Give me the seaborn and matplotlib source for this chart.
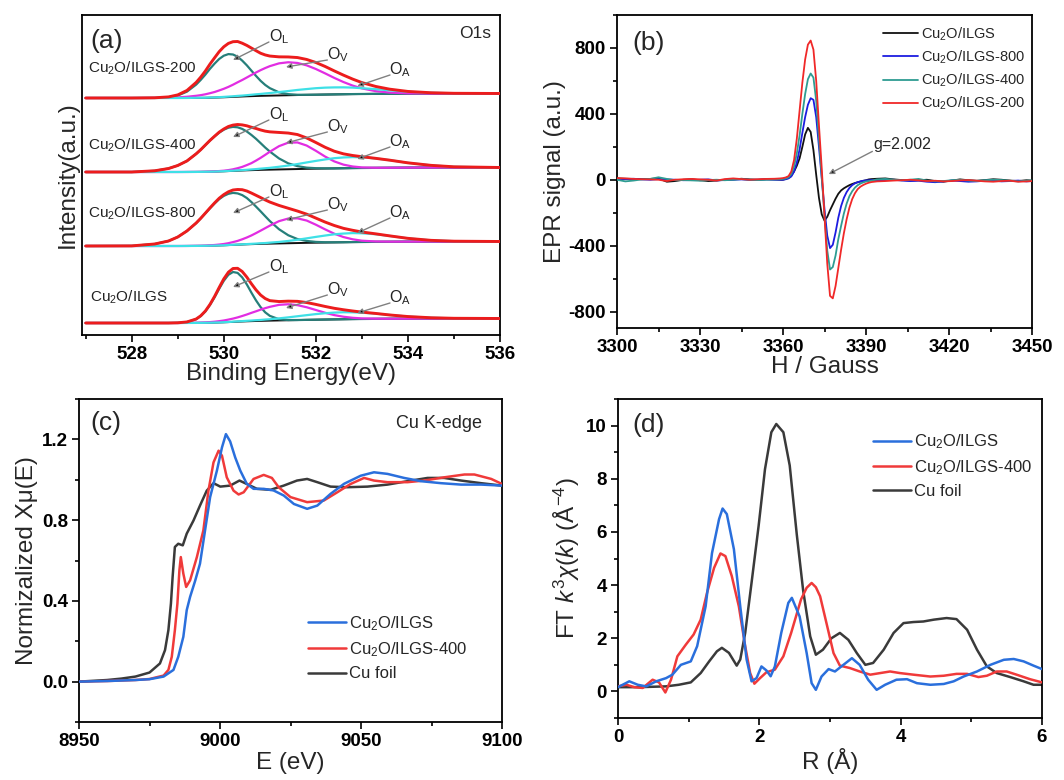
import numpy as np
import matplotlib
matplotlib.use('Agg')
import matplotlib.pyplot as plt
from matplotlib.ticker import MultipleLocator
import seaborn as sns

sns.set_theme(style='ticks')
plt.rcParams['font.family'] = ['Liberation Sans', 'DejaVu Sans']
plt.rcParams['mathtext.fontset'] = 'custom'
plt.rcParams['mathtext.rm'] = 'Liberation Sans'
plt.rcParams['mathtext.it'] = 'Liberation Sans:italic'
plt.rcParams['mathtext.bf'] = 'Liberation Sans:bold'

# ---------------- Panel (a): XPS O1s ----------------
xps_energy = [527.0, 528.0, 528.5, 528.8, 529.0, 529.2, 529.4, 529.5, 529.6, 529.7,
              529.8, 529.9, 530.0, 530.1, 530.2, 530.3, 530.4, 530.5, 530.6, 530.7,
              530.8, 530.9, 531.0, 531.2, 531.4, 531.6, 531.8, 532.0, 532.2, 532.4,
              532.6, 532.8, 533.0, 533.3, 533.6, 534.0, 534.5, 535.0, 536.0]
xps_background = [0, 0, 0, 0, 0, 0.05, 0.1, 0.15, 0.2, 0.3, 0.4, 0.55, 0.7, 0.9, 1.1, 1.3,
                  1.5, 1.7, 1.85, 2.0, 2.15, 2.25, 2.35, 2.55, 2.75, 2.95, 3.15, 3.3, 3.45,
                  3.6, 3.75, 3.9, 4.0, 4.15, 4.25, 4.35, 4.45, 4.5, 4.5]

xps_samples = ['Cu$_2$O/ILGS', 'Cu$_2$O/ILGS-800', 'Cu$_2$O/ILGS-400', 'Cu$_2$O/ILGS-200']
xps_offsets = [12, 89, 163, 237]

ol_ilgs = [0, 0, 0, 0, 0.2, 0.9, 3.7, 6.8, 11.4, 17.7, 25.3, 33.7, 41.5, 47.3, 49.9, 48.8,
           44.1, 36.9, 28.5, 20.6, 13.7, 8.4, 4.8, 1.2, 0.2, 0, 0, 0, 0, 0, 0, 0, 0, 0, 0,
           0, 0, 0, 0]
ov_ilgs = [0, 0, 0, 0, 0, 0.1, 0.2, 0.3, 0.4, 0.6, 0.9, 1.3, 1.8, 2.5, 3.3, 4.3, 5.5, 6.8,
           8.3, 9.7, 11.2, 12.6, 13.8, 15.6, 16.0, 14.9, 12.6, 9.7, 6.8, 4.3, 2.5, 1.3, 0.6,
           0.2, 0, 0, 0, 0, 0]
oa_ilgs = [0, 0, 0, 0, 0, 0, 0, 0, 0, 0, 0, 0, 0.1, 0.1, 0.2, 0.3, 0.4, 0.5, 0.6, 0.8, 0.9,
           1.2, 1.4, 2.1, 2.9, 3.8, 4.7, 5.6, 6.3, 6.8, 7.0, 6.8, 6.3, 5.2, 3.8, 2.1, 0.8,
           0.2, 0]

ol_800 = [0, 0.1, 2.0, 5.0, 9.0, 15.0, 22.8, 27.5, 32.5, 37.4, 42.1, 46.3, 49.4, 51.3, 52.0,
          51.3, 49.4, 46.3, 42.1, 37.4, 32.5, 27.5, 22.6, 14.2, 8.0, 4.0, 1.9, 0.8, 0.3, 0.1,
          0, 0, 0, 0, 0, 0, 0, 0, 0]
ov_800 = [0, 0, 0, 0, 0, 0, 0.1, 0.1, 0.2, 0.4, 0.6, 0.9, 1.3, 1.9, 2.8, 3.8, 5.2, 6.8, 8.7,
          10.9, 13.2, 15.6, 18.0, 22.3, 24.7, 24.7, 22.3, 18.0, 13.2, 8.7, 5.2, 2.8, 1.3, 0.4,
          0.1, 0, 0, 0, 0]
oa_800 = [0, 0, 0, 0, 0, 0, 0, 0, 0, 0, 0, 0, 0, 0.1, 0.1, 0.1, 0.2, 0.2, 0.3, 0.4, 0.6, 0.7,
          1.0, 1.5, 2.3, 3.3, 4.5, 5.8, 7.0, 8.1, 8.7, 9.0, 8.7, 7.6, 5.8, 3.3, 1.2, 0.3, 0]

ol_400 = [0, 0, 1.2, 3.5, 6.5, 11.0, 18.1, 22.2, 26.7, 31.2, 35.2, 38.8, 41.6, 43.4, 44.0,
          43.4, 41.6, 38.8, 35.2, 31.2, 26.7, 22.2, 18.1, 11.0, 5.9, 2.9, 1.2, 0.5, 0.2, 0,
          0, 0, 0, 0, 0, 0, 0, 0, 0]
ov_400 = [0, 0, 0, 0, 0, 0, 0, 0, 0.1, 0.1, 0.2, 0.4, 0.6, 1.0, 1.6, 2.5, 3.6, 5.2, 7.0, 9.4,
          12.0, 14.9, 17.9, 23.3, 26.6, 26.6, 23.3, 17.9, 12.0, 7.0, 3.6, 1.6, 0.6, 0.1, 0,
          0, 0, 0, 0]
oa_400 = [0, 0, 0, 0, 0, 0, 0, 0, 0, 0, 0, 0.1, 0.1, 0.2, 0.2, 0.3, 0.4, 0.5, 0.7, 0.9, 1.2,
          1.5, 1.8, 2.7, 3.7, 5.0, 6.4, 7.8, 9.1, 10.2, 10.8, 11.0, 10.7, 9.4, 7.6, 4.8, 2.2,
          0.7, 0]

ol_200 = [0, 0, 0.1, 0.8, 2.5, 6.3, 13.3, 18.0, 23.2, 28.9, 34.0, 38.5, 41.6, 43.0, 42.4,
          40.0, 35.9, 31.0, 25.5, 20.1, 15.0, 10.8, 7.5, 3.1, 1.1, 0.3, 0.1, 0, 0, 0, 0, 0,
          0, 0, 0, 0, 0, 0, 0]
ov_200 = [0, 0, 0.1, 0.3, 0.6, 1.2, 2.1, 2.7, 3.5, 4.5, 5.6, 7.0, 8.5, 10.2, 12.2, 14.4, 16.5,
          18.8, 21.2, 23.5, 25.7, 27.7, 29.5, 32.1, 33.0, 32.1, 29.5, 25.7, 21.2, 16.5, 12.2,
          8.5, 5.6, 2.7, 1.2, 0.3, 0, 0, 0]
oa_200 = [0, 0, 0, 0, 0, 0, 0.1, 0.1, 0.1, 0.2, 0.2, 0.3, 0.4, 0.5, 0.6, 0.8, 0.9, 1.1, 1.4,
          1.7, 1.9, 2.3, 2.6, 3.4, 4.2, 5.1, 5.8, 6.5, 6.9, 7.0, 6.9, 6.5, 5.8, 4.7, 3.4, 1.9,
          0.8, 0.2, 0]

xps_components = [(ol_ilgs, ov_ilgs, oa_ilgs), (ol_800, ov_800, oa_800),
                  (ol_400, ov_400, oa_400), (ol_200, ov_200, oa_200)]

# ---------------- Panel (b): EPR ----------------
epr_field = [3300, 3303, 3306, 3309, 3312, 3315, 3318, 3321, 3324, 3327, 3330, 3333, 3336,
             3339, 3342, 3345, 3348, 3351, 3354, 3357, 3359,
             3360, 3361, 3362, 3363, 3364, 3365, 3366, 3367, 3368, 3369, 3370, 3371, 3372,
             3373, 3374, 3375, 3376, 3377, 3378, 3379, 3380, 3381, 3382, 3383, 3384, 3385,
             3386, 3387, 3388, 3389, 3390, 3391, 3392,
             3394, 3397, 3400, 3403, 3406, 3409, 3412, 3415, 3418, 3421, 3424, 3427, 3430,
             3433, 3436, 3439, 3442, 3445, 3448, 3450]
epr_ilgs = [8, 6, 5, 4, 5, 8, -12, -8, 0, 3, -3, -8, -5, 0, 2, 6, 2, 0, 3, 2, 0,
            0, 5, 12, 25, 50, 85, 130, 200, 275, 315, 290, 180, 30, -110, -210, -248, -225,
            -185, -150, -115, -85, -65, -52, -42, -33, -26, -20, -15, -11, -7, -3, 2, 4,
            6, 8, 2, -2, -5, -3, 0, -8, -12, -5, 2, -3, -6, -2, 3, 0, -5, -8, -3, -5]
epr_800 = [5, 3, 6, 2, 0, 4, 2, 0, -3, -2, 0, 2, -4, -2, 0, 2, -1, 0, 2, 0, 0,
           0, 3, 8, 20, 50, 105, 185, 285, 380, 455, 495, 485, 380, 200, 10, -180, -340,
           -415, -395, -320, -230, -160, -110, -75, -50, -33, -22, -15, -10, -6, -4, -3, -2,
           -3, -2, 0, -5, -8, -6, -12, -15, -10, -5, -8, -12, -10, -6, -5, -10, -8, -5, -10, -8]
epr_400 = [0, -10, -5, 2, 5, 15, 5, -3, -2, -4, -6, -2, 0, -3, 0, 4, 0, -2, 0, 2, 3,
           5, 8, 15, 35, 80, 160, 270, 400, 520, 610, 645, 620, 480, 250, 20, -220, -430,
           -545, -530, -460, -360, -280, -205, -145, -100, -70, -48, -33, -23, -16, -11, -8, -6,
           2, 5, 0, -3, 0, 5, -5, -10, -8, -3, 0, -5, -8, -3, 0, -2, -6, -10, -6, -5]
epr_200 = [10, 8, 5, 3, 2, 0, -8, 0, 3, 5, 2, 0, -5, 4, 8, 4, 0, 3, 5, 6, 8,
           10, 14, 22, 50, 120, 250, 420, 590, 730, 820, 845, 790, 600, 330, 70, -220, -510,
           -705, -720, -645, -535, -425, -325, -240, -170, -118, -82, -57, -42, -32, -24, -18, -14,
           -10, -8, -5, -3, 0, -4, -8, -6, -10, -8, -4, -2, -6, -10, -12, -8, -6, -12, -10, -8]

# ---------------- Panel (c): XANES ----------------
xanes_e_ilgs = [8950, 8960, 8970, 8975, 8980, 8983.5, 8985.2, 8987, 8988.2, 8989.4, 8991.2,
                8992.9, 8994.7, 8996.5, 8998.9, 9000.7, 9002.1, 9003.6, 9005.4, 9007.2, 9009.5,
                9011.9, 9015.5, 9019, 9022.6, 9026.2, 9030.9, 9034.5, 9039.2, 9044, 9049.9,
                9054.6, 9059.4, 9065.3, 9071.2, 9078.4, 9085.5, 9092.6, 9100]
xanes_mu_ilgs = [0.0, 0.003, 0.008, 0.012, 0.025, 0.058, 0.123, 0.222, 0.354, 0.42, 0.50,
                 0.584, 0.749, 0.914, 1.045, 1.16, 1.226, 1.19, 1.11, 1.045, 0.98, 0.955, 0.955,
                 0.947, 0.922, 0.88, 0.856, 0.872, 0.93, 0.98, 1.02, 1.037, 1.029, 1.009, 0.993,
                 0.983, 0.976, 0.976, 0.971]
xanes_e_400 = [8950, 8960, 8970, 8975, 8980, 8981.7, 8982.9, 8984, 8984.9, 8985.6, 8986.1,
               8987, 8988, 8989.4, 8991.8, 8994.1, 8995.9, 8997.7, 8999.5, 9000.7, 9002.4,
               9004.8, 9006.6, 9008.4, 9011.9, 9015.5, 9018.4, 9020.8, 9025, 9030.9, 9036.8,
               9041.6, 9046.3, 9051.1, 9054.6, 9059.4, 9066.5, 9072.4, 9079.5, 9086.7, 9090.2,
               9096.2, 9100]
xanes_mu_400 = [0.0, 0.003, 0.008, 0.013, 0.03, 0.058, 0.123, 0.255, 0.387, 0.551, 0.617,
                0.535, 0.469, 0.502, 0.617, 0.749, 0.946, 1.086, 1.144, 1.119, 1.012, 0.946,
                0.927, 0.938, 1.004, 1.024, 1.009, 0.963, 0.914, 0.889, 0.897, 0.938, 0.979,
                1.009, 0.996, 0.988, 0.988, 0.996, 1.012, 1.026, 1.026, 1.004, 0.979]
xanes_e_foil = [8950, 8960, 8965, 8970, 8975, 8978.7, 8980.5, 8981.7, 8982.6, 8983.2, 8984,
                8985.2, 8986.8, 8988.2, 8990.6, 8992.9, 8995.3, 8997.7, 9000.1, 9003.6, 9006.9,
                9009.5, 9013.1, 9017.9, 9022.6, 9027.3, 9030.9, 9034.5, 9039.2, 9045.1, 9052.3,
                9059.4, 9066.5, 9073.6, 9079.5, 9085.5, 9092.6, 9100]
xanes_mu_foil = [0.0, 0.008, 0.015, 0.025, 0.045, 0.09, 0.156, 0.255, 0.387, 0.519, 0.667,
                 0.683, 0.675, 0.733, 0.798, 0.872, 0.946, 0.983, 0.966, 0.971, 0.996, 0.979,
                 0.955, 0.95, 0.971, 0.996, 1.004, 0.988, 0.966, 0.963, 0.966, 0.976, 0.993,
                 1.009, 1.009, 0.996, 0.983, 0.971]

# ---------------- Panel (d): FT-EXAFS ----------------
ft_r_ilgs = [0, 0.16, 0.28, 0.40, 0.54, 0.68, 0.77, 0.89, 1.03, 1.12, 1.24, 1.33, 1.43, 1.48,
             1.54, 1.64, 1.73, 1.82, 1.89, 1.96, 2.03, 2.10, 2.16, 2.22, 2.31, 2.41, 2.46, 2.57,
             2.67, 2.74, 2.80, 2.88, 2.98, 3.07, 3.19, 3.31, 3.42, 3.54, 3.66, 3.78, 3.94, 4.09,
             4.23, 4.42, 4.61, 4.75, 4.89, 5.08, 5.27, 5.46, 5.60, 5.74, 5.88, 6.0]
ft_ilgs = [0.16, 0.38, 0.25, 0.19, 0.38, 0.5, 0.63, 1.0, 1.13, 1.7, 3.2, 5.2, 6.48, 6.88, 6.67,
           5.35, 3.2, 1.2, 0.38, 0.5, 0.94, 0.79, 0.57, 0.94, 2.2, 3.33, 3.52, 2.82, 1.44, 0.31,
           0.06, 0.56, 0.84, 0.75, 1.0, 1.25, 1.0, 0.44, 0.06, 0.25, 0.44, 0.46, 0.31, 0.25,
           0.28, 0.38, 0.56, 0.75, 1.0, 1.19, 1.22, 1.13, 0.97, 0.84]
ft_r_400 = [0, 0.12, 0.23, 0.35, 0.49, 0.58, 0.67, 0.75, 0.84, 0.96, 1.07, 1.17, 1.26, 1.36,
            1.45, 1.52, 1.61, 1.71, 1.80, 1.87, 1.93, 2.01, 2.10, 2.22, 2.34, 2.45, 2.59, 2.67,
            2.74, 2.80, 2.86, 2.95, 3.05, 3.14, 3.28, 3.42, 3.57, 3.71, 3.85, 3.99, 4.18, 4.42,
            4.61, 4.79, 4.94, 5.10, 5.22, 5.36, 5.50, 5.64, 5.83, 6.0]
ft_400 = [0.19, 0.25, 0.16, 0.13, 0.44, 0.34, -0.04, 0.44, 1.32, 1.76, 2.14, 2.7, 3.71, 4.65,
          5.19, 5.09, 4.34, 3.2, 1.7, 0.69, 0.29, 0.5, 0.72, 0.82, 1.32, 2.2, 3.46, 3.9, 4.08,
          3.92, 3.58, 2.57, 1.44, 0.97, 0.88, 0.75, 0.63, 0.69, 0.75, 0.69, 0.63, 0.56, 0.59,
          0.66, 0.66, 0.54, 0.59, 0.75, 0.75, 0.63, 0.46, 0.34]
ft_r_foil = [0, 0.30, 0.68, 0.86, 1.03, 1.17, 1.29, 1.40, 1.47, 1.57, 1.68, 1.73, 1.80, 1.89,
             1.99, 2.08, 2.17, 2.24, 2.34, 2.43, 2.53, 2.62, 2.72, 2.80, 2.90, 3.02, 3.14, 3.26,
             3.38, 3.50, 3.61, 3.76, 3.90, 4.04, 4.18, 4.32, 4.47, 4.65, 4.79, 4.94, 5.08, 5.22,
             5.36, 5.55, 5.74, 5.88, 6.0]
ft_foil = [0.16, 0.16, 0.19, 0.25, 0.34, 0.69, 1.13, 1.51, 1.64, 1.45, 0.97, 1.2, 2.2, 4.09,
           6.23, 8.36, 9.75, 10.06, 9.75, 8.5, 5.9, 3.8, 2.07, 1.38, 1.57, 2.0, 2.2, 1.94, 1.44,
           1.0, 1.07, 1.57, 2.2, 2.57, 2.61, 2.63, 2.7, 2.76, 2.72, 2.32, 1.57, 0.94, 0.69, 0.54,
           0.38, 0.25, 0.25]

# ================= drawing =================
TICK_FS = 13.5
LABEL_FS = 17.5


def draw(ax, x, y, color, lw, label=None, z=2):
    sns.lineplot(x=np.asarray(x, float), y=np.asarray(y, float), ax=ax, color=color,
                 linewidth=lw, label=label, estimator=None, sort=False, legend=False,
                 zorder=z)


def style(ax, xlim, ylim, xt, yt, xminor, yminor):
    ax.set_xlim(*xlim)
    ax.set_ylim(*ylim)
    ax.set_xticks(xt)
    ax.set_xticklabels([str(v) for v in xt], fontweight='bold', fontsize=TICK_FS)
    ax.xaxis.set_minor_locator(MultipleLocator(xminor))
    if yt is None:
        ax.set_yticks([])
    else:
        ax.set_yticks(yt[0])
        ax.set_yticklabels(yt[1], fontweight='bold', fontsize=TICK_FS)
        ax.yaxis.set_minor_locator(MultipleLocator(yminor))
    for s in ax.spines.values():
        s.set_visible(True)
        s.set_linewidth(1.3)
        s.set_color('black')
    ax.tick_params(which='both', direction='out', top=False, right=False, width=1.2,
                   color='black', labelcolor='black')
    ax.tick_params(which='major', length=5, pad=3)
    ax.tick_params(which='minor', length=3)
    ax.set_facecolor('white')
    ax.grid(False)


fig = plt.figure(figsize=(10.64, 7.8), dpi=100)
fig.patch.set_facecolor('white')
axA = fig.add_axes([82 / 1064, 1 - 335 / 780, 418 / 1064, 320 / 780])
axB = fig.add_axes([617 / 1064, 1 - 328 / 780, 415 / 1064, 313 / 780])
axC = fig.add_axes([79 / 1064, 1 - 722 / 780, 423 / 1064, 323 / 780])
axD = fig.add_axes([618 / 1064, 1 - 718 / 780, 424 / 1064, 319 / 780])

# ---- (a)
bg = np.asarray(xps_background, float)
for off, (ol, ov, oa) in zip(xps_offsets, xps_components):
    ol, ov, oa = (np.asarray(v, float) for v in (ol, ov, oa))
    base = off + bg
    draw(axA, xps_energy, base, '#111111', 1.4, z=2)
    draw(axA, xps_energy, base + ol, '#267f7a', 1.6, z=3)
    draw(axA, xps_energy, base + ov, '#e22de2', 1.6, z=3)
    draw(axA, xps_energy, base + oa, '#3fe0e6', 1.6, z=4)
    draw(axA, xps_energy, base + ol + ov + oa, '#ec1c1c', 2.1, z=5)

sample_label_pos = [(527.1, 26), (527.05, 33), (527.05, 27), (527.05, 30)]
for name, off, (lx, dy) in zip(xps_samples, xps_offsets, sample_label_pos):
    axA.text(lx, off + dy, name, fontsize=11, va='center', ha='left', color='#222222')

peak_names = [r'O$_{\rm L}$', r'O$_{\rm V}$', r'O$_{\rm A}$']
peak_text_e = [531.2, 532.47, 533.83]
peak_head_e = [530.2, 531.35, 532.9]
peak_layout = [[(56, 36), (33, 15), (25, 10)],
               [(54, 33), (41, 26), (33, 13)],
               [(57, 35), (45, 29), (30, 13)],
               [(61, 38), (43, 31), (28, 12)]]
for off, lay in zip(xps_offsets, peak_layout):
    for name, te, he, (tdy, hdy) in zip(peak_names, peak_text_e, peak_head_e, lay):
        axA.text(te, off + tdy, name, fontsize=11.5, ha='center', va='center',
                 color='#222222', zorder=6)
        axA.annotate('', xy=(he, off + hdy), xytext=(te - 0.22, off + tdy - 5),
                     arrowprops=dict(arrowstyle='-|>', edgecolor='#808080',
                                     facecolor='black', lw=1.0, mutation_scale=8,
                                     shrinkA=0, shrinkB=0), zorder=6)

axA.text(535.8, 302, 'O1s', fontsize=12.5, ha='right', va='center')
axA.text(0.02, 0.92, '(a)', transform=axA.transAxes, fontsize=19, ha='left', va='center')
style(axA, (526.92, 536), (0, 320), [528, 530, 532, 534, 536], None, 1, None)
axA.set_xlabel('Binding Energy(eV)', fontsize=LABEL_FS, labelpad=0)
axA.set_ylabel('Intensity(a.u.)', fontsize=LABEL_FS, labelpad=2)

# ---- (b)
draw(axB, epr_field, epr_ilgs, '#111111', 1.3, 'Cu$_2$O/ILGS', z=2)
draw(axB, epr_field, epr_800, '#1c1ce0', 1.3, 'Cu$_2$O/ILGS-800', z=3)
draw(axB, epr_field, epr_400, '#2e9c92', 1.3, 'Cu$_2$O/ILGS-400', z=4)
draw(axB, epr_field, epr_200, '#f02828', 1.3, 'Cu$_2$O/ILGS-200', z=5)
axB.annotate('', xy=(3376.5, 34), xytext=(3392.3, 172),
             arrowprops=dict(arrowstyle='-|>', edgecolor='#808080', facecolor='black',
                             lw=1.0, mutation_scale=8, shrinkA=0, shrinkB=0))
axB.text(3392.8, 212, 'g=2.002', fontsize=11.5, ha='left', va='center')
axB.text(0.038, 0.91, '(b)', transform=axB.transAxes, fontsize=19, ha='left', va='center')
style(axB, (3300, 3450), (-900, 1000), [3300, 3330, 3360, 3390, 3420, 3450],
      ([-800, -400, 0, 400, 800], ['-800', '-400', '0', '400', '800']), 15, 200)
axB.set_xlabel('H / Gauss', fontsize=LABEL_FS, labelpad=0)
axB.set_ylabel('EPR signal (a.u.)', fontsize=LABEL_FS, labelpad=2)
axB.legend(loc='upper left', bbox_to_anchor=(0.62, 0.995), frameon=False, fontsize=10.5,
           handlelength=2.4, handletextpad=0.2, labelspacing=0.4, borderaxespad=0.2)

# ---- (c)
draw(axC, xanes_e_ilgs, xanes_mu_ilgs, '#2a6fdc', 1.8, 'Cu$_2$O/ILGS', z=4)
draw(axC, xanes_e_400, xanes_mu_400, '#f03a3a', 1.8, 'Cu$_2$O/ILGS-400', z=3)
draw(axC, xanes_e_foil, xanes_mu_foil, '#3a3a3a', 1.8, 'Cu foil', z=2)
axC.text(0.026, 0.926, '(c)', transform=axC.transAxes, fontsize=19, ha='left', va='center')
axC.text(9093, 1.28, 'Cu K-edge', fontsize=13, ha='right', va='center')
style(axC, (8950, 9100), (-0.2, 1.4), [8950, 9000, 9050, 9100],
      ([0.0, 0.4, 0.8, 1.2], ['0.0', '0.4', '0.8', '1.2']), 25, 0.2)
axC.set_xlabel('E (eV)', fontsize=LABEL_FS, labelpad=1)
axC.set_ylabel('Normizalized Xμ(E)', fontsize=LABEL_FS, labelpad=3)
axC.legend(loc='upper left', bbox_to_anchor=(0.525, 0.355), frameon=False, fontsize=12,
           handlelength=2.3, handletextpad=0.15, labelspacing=0.45, borderaxespad=0)

# ---- (d)
draw(axD, ft_r_ilgs, ft_ilgs, '#2a6fdc', 1.8, 'Cu$_2$O/ILGS', z=4)
draw(axD, ft_r_400, ft_400, '#f03a3a', 1.8, 'Cu$_2$O/ILGS-400', z=3)
draw(axD, ft_r_foil, ft_foil, '#3a3a3a', 1.8, 'Cu foil', z=2)
axD.text(0.035, 0.918, '(d)', transform=axD.transAxes, fontsize=19, ha='left', va='center')
style(axD, (0, 6), (-1, 11), [0, 2, 4, 6],
      ([0, 2, 4, 6, 8, 10], ['0', '2', '4', '6', '8', '10']), 1, 1)
axD.set_xlabel('R (Å)', fontsize=LABEL_FS, labelpad=1)
axD.set_ylabel(r'FT $k^3\chi(k)$ (Å$^{-4}$)', fontsize=LABEL_FS, labelpad=3)
axD.legend(loc='upper left', bbox_to_anchor=(0.585, 0.915), frameon=False, fontsize=12,
           handlelength=2.3, handletextpad=0.15, labelspacing=0.4, borderaxespad=0)

fig.savefig('out.png', dpi=100, facecolor='white')
